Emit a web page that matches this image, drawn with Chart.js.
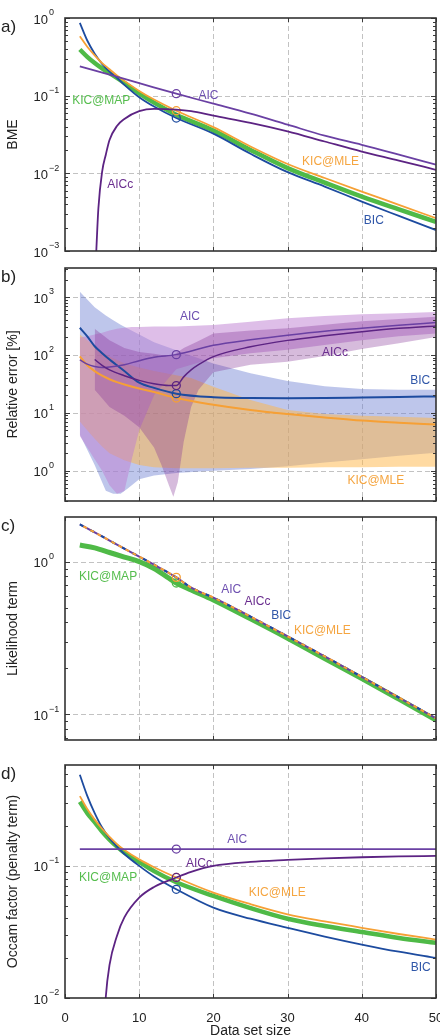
<!DOCTYPE html>
<html><head><meta charset="utf-8">
<script src="https://cdn.jsdelivr.net/npm/chart.js@4.4.1/dist/chart.umd.min.js"></script>
<style>
html,body{margin:0;padding:0;background:#fff;width:440px;height:1036px;overflow:hidden;position:relative;}
canvas{position:absolute;left:0;top:0;}
</style></head><body>
<canvas id="pa" width="460" height="1036"></canvas>
<canvas id="pb" width="460" height="1036"></canvas>
<canvas id="pc" width="460" height="1036"></canvas>
<canvas id="pd" width="460" height="1036"></canvas>
<script>
// ---------------- data ----------------
const xTicks = [0,10,20,30,40,50];
const xGrid = [10,20,30,40];
const sizes = [2,3,4,5,6,7,8,10,12,15,20,25,30,35,40,45,50];

// a) BME
const bmeBIC = [0.867,0.513,0.347,0.257,0.204,0.170,0.138,0.0955,0.0724,0.0515,0.0324,0.01786,0.01035,0.00676,0.00433,0.00283,0.00186];
const bmeMLE = [0.582,0.427,0.331,0.263,0.219,0.182,0.155,0.115,0.0891,0.0640,0.0394,0.0222,0.0132,0.00871,0.00582,0.00393,0.00264];
const bmeMAP = [0.393,0.316,0.263,0.224,0.195,0.170,0.146,0.107,0.0813,0.0569,0.0356,0.0200,0.01167,0.00759,0.00501,0.00343,0.00237];
const bmeAICsizes = [2,6,10,15,20,25,30,35,40,45,50];
const bmeAIC = [0.239,0.186,0.145,0.106,0.0789,0.0586,0.0423,0.0305,0.0233,0.0174,0.0129];
const bmeAICcSizes = [4.1,4.5,5,5.5,6,7,8,10,12,15,17,20,25,30,35,40,45,50];
const bmeAICc = [0.000562,0.00355,0.01047,0.01738,0.0269,0.0407,0.0501,0.0631,0.0676,0.0661,0.0631,0.0552,0.0447,0.0347,0.0257,0.0191,0.01462,0.01109];

// b) relative error [%]
const errBIC = [294,209,141,107,83.2,66.1,52.5,33.1,26.9,21.4,18.6,18.0,17.8,18.0,18.4,18.8,19.2];
const errMLE = [94.6,66.1,52.5,43.7,38.0,33.9,30.9,26.3,22.9,18.0,13.8,11.2,9.55,8.32,7.35,6.76,6.27];
const errAICsizes = [2,3,4,5,6,8,10,12,15,20,25,30,35,40,45,50];
const errAIC = [82.0,69.2,63.1,60.3,61.7,67.6,79.4,91.2,101,146,182,219,257,288,324,363];
const errAICcSizes = [4,5,6,8,10,12,14,15,16,17,18,20,25,30,35,40,45,50];
const errAICc = [83.2,66.1,55.0,43.7,36.3,31.6,29.5,29.5,41.7,55.0,67.6,93.3,138,178,214,251,288,316];
const bandBICsizes = [2,4,5.5,6.5,7.5,8.5,10,12,15,20,25,30,35,40,45,50];
const bandBIChigh = [1230,661,479,398,331,282,224,166,120,71,48,35.5,28.8,25.7,25.1,25.1];
const bandBIClow = [4.2,1.26,0.45,0.40,0.40,0.5,0.71,0.83,0.91,1.0,1.07,1.2,1.38,1.58,1.82,2.04];
const bandAICsizes = [2,3,4,5,6,7,8,9,10,12,15,20,25,30,35,40,45,50];
const bandAIChigh = [200,209,224,240,263,282,295,302,302,309,309,327,372,427,468,501,525,550];
const bandAIClow = [3.98,2.51,1.58,1.0,0.562,0.40,0.447,1.58,5.01,20.0,56.2,87.1,107,123,148,178,209,234];
const bandAICcSizes = [4,5,6,8,10,12,13,14,14.6,15.2,16,17,18,20,25,30,35,40,45,50];
const bandAICchigh = [282,224,178,132,112,105,100,100,100,112,132,151,174,234,263,288,331,380,417,457];
const bandAICclow = [25.1,17.8,12.6,8.91,5.62,2.51,1.26,0.562,0.355,0.631,3.16,12.6,25.1,50.1,67.6,75.9,95.5,126,158,204];
const bandMLEsizes = [2,3,4,5,6,8,10,12,15,17,20,25,30,35,40,45,50];
const bandMLEhigh = [224,178,141,112,93.3,70.8,60.3,52.5,44.7,39.8,28.2,16.6,11.2,9.55,8.91,8.51,8.13];
const bandMLElow = [7.08,5.01,3.55,2.63,2.0,1.51,1.26,1.15,1.10,1.10,1.10,1.12,1.12,1.15,1.15,1.17,1.17];

// c) likelihood term
const likeSizes = [2,5,8,10,12,15,17,20,25,30,35,40,45,50];
const likeML = [1.754,1.462,1.216,1.08,0.955,0.789,0.676,0.581,0.437,0.324,0.240,0.176,0.129,0.0942];
const likeMAPsizes = [2,4,6,8,10,12,14,15,17,20,25,30,35,40,45,50];
const likeMAP = [1.285,1.230,1.148,1.072,1.0,0.902,0.78,0.725,0.653,0.561,0.422,0.315,0.232,0.172,0.126,0.0918];

// d) Occam factor
const occBIC = [0.489,0.339,0.251,0.195,0.162,0.140,0.123,0.100,0.0832,0.0665,0.0483,0.0398,0.0340,0.0292,0.0254,0.0224,0.0201];
const occMLE = [0.337,0.269,0.224,0.191,0.166,0.146,0.132,0.112,0.0977,0.0817,0.0628,0.0513,0.0430,0.0380,0.0340,0.0305,0.0277];
const occMAP = [0.306,0.251,0.214,0.182,0.158,0.140,0.126,0.107,0.0912,0.0752,0.0592,0.0479,0.0398,0.0351,0.0316,0.0285,0.0262];
const occAICsizes = [2,15,50];
const occAIC = [0.134,0.134,0.134];
const occAICcSizes = [5.0,5.5,6,7,8,10,12,15,17,20,25,30,35,40,45,50];
const occAICc = [0.00316,0.01023,0.0178,0.0295,0.0407,0.0575,0.0692,0.0817,0.0902,0.100,0.1072,0.1109,0.1140,0.1162,0.1178,0.1191];

// axis ranges and decade tick exponents
const rangeA = [0.001, 1];     const expA = [0,-1,-2,-3];
const rangeB = [0.316, 3162];  const expB = [0,1,2,3];
const rangeC = [0.068, 1.96];  const expC = [0,-1];
const rangeD = [0.01, 0.58];   const expD = [-1,-2];

// ---------------- style ----------------
const FONT = '"Liberation Sans", Arial, Helvetica, sans-serif';
const C_BIC = '#1d4b9f', C_MLE = '#f6a035', C_MAP = '#4fba47', C_AIC = '#6a40a3', C_AICc = '#5c2383';
const L_BIC = '#2f56a8', L_MLE = '#f5a540', L_MAP = '#55bd4d', L_AIC = '#6d4fb0', L_AICc = '#6a2d8f';
const PL = 65, PR = 436, CW = 460, CH = 1036;

const notesA = [
  {t:'AIC', x:19.34, y:0.099, c:L_AIC}, {t:'KIC@MAP', x:4.89, y:0.0871, c:L_MAP},
  {t:'KIC@MLE', x:35.78, y:0.01429, c:L_MLE}, {t:'BIC', x:41.62, y:0.00247, c:L_BIC},
  {t:'AICc', x:7.45, y:0.00708, c:L_AICc}];
const notesB = [
  {t:'AIC', x:16.85, y:456, c:L_AIC}, {t:'AICc', x:36.39, y:109, c:L_AICc},
  {t:'BIC', x:47.88, y:36.1, c:L_BIC}, {t:'KIC@MLE', x:41.89, y:0.665, c:L_MLE}];
const notesC = [
  {t:'KIC@MAP', x:5.8, y:0.797, c:L_MAP}, {t:'AIC', x:22.4, y:0.655, c:L_AIC},
  {t:'AICc', x:25.94, y:0.551, c:L_AICc}, {t:'BIC', x:29.14, y:0.441, c:L_BIC},
  {t:'KIC@MLE', x:34.68, y:0.351, c:L_MLE}];
const notesD = [
  {t:'AIC', x:23.2, y:0.157, c:L_AIC}, {t:'AICc', x:18.06, y:0.1045, c:L_AICc},
  {t:'KIC@MAP', x:5.8, y:0.0809, c:L_MAP}, {t:'KIC@MLE', x:28.6, y:0.0625, c:L_MLE},
  {t:'BIC', x:47.95, y:0.01687, c:L_BIC}];

function pts(xs, ys){ return xs.map((x,i)=>({x:x, y:ys[i]})); }
function lineDS(xs, ys, color, width, order, circle, extra) {
  return Object.assign({
    data: pts(xs, ys), borderColor: color, borderWidth: width, fill: false,
    pointRadius: xs.map(x => (circle && x === 15) ? 4 : 0), pointHoverRadius: 0,
    pointBorderColor: color, pointBackgroundColor: 'rgba(0,0,0,0)', pointBorderWidth: 1.3,
    cubicInterpolationMode: 'monotone', order: order
  }, extra || {});
}
function bandDS(xs, hi, lo, color, order) {
  return [
    {data: pts(xs, hi), borderWidth: 1, borderColor: 'rgba(0,0,0,0)', pointRadius: 0, fill: '+1', backgroundColor: color, tension: 0, order: order},
    {data: pts(xs, lo), borderWidth: 1, borderColor: 'rgba(0,0,0,0)', pointRadius: 0, fill: false, tension: 0, order: order}
  ];
}

function seg(ctx, x1, y1, x2, y2){ ctx.beginPath(); ctx.moveTo(x1,y1); ctx.lineTo(x2,y2); ctx.stroke(); }

function panelPlugin(p) {
  return {
    id: 'panel' + p.key,
    beforeDatasetsDraw(chart) {
      const {ctx, chartArea: a, scales: {x, y}} = chart;
      ctx.save();
      ctx.strokeStyle = '#c2c2c2'; ctx.lineWidth = 1; ctx.setLineDash([5,3]);
      xGrid.forEach(v => { const px = Math.round(x.getPixelForValue(v)) + 0.5; seg(ctx, px, a.top, px, a.bottom); });
      p.exps.forEach(e => {
        const py = Math.round(y.getPixelForValue(Math.pow(10, e))) + 0.5;
        if (py > a.top + 2 && py < a.bottom - 2) seg(ctx, a.left, py, a.right, py);
      });
      ctx.restore();
    },
    afterDatasetsDraw(chart) {
      const {ctx, chartArea: a, scales: {x, y}} = chart;
      ctx.save();
      ctx.strokeStyle = '#3a3a3a'; ctx.lineWidth = 1; ctx.setLineDash([]);
      const lo = Math.floor(Math.log10(y.min)), hi = Math.ceil(Math.log10(y.max));
      for (let e = lo; e <= hi; e++) for (let m = 1; m <= 9; m++) {
        const v = m * Math.pow(10, e);
        if (v < y.min * 0.999 || v > y.max * 1.001) continue;
        const py = Math.round(y.getPixelForValue(v)) + 0.5, len = m === 1 ? 5 : 3;
        seg(ctx, a.left, py, a.left + len, py); seg(ctx, a.right, py, a.right - len, py);
      }
      xTicks.forEach(v => {
        const px = Math.round(x.getPixelForValue(v)) + 0.5;
        seg(ctx, px, a.bottom, px, a.bottom - 4); seg(ctx, px, a.top, px, a.top + 4);
      });
      ctx.lineWidth = 1.6; ctx.strokeStyle = '#333';
      ctx.strokeRect(a.left, a.top, a.right - a.left, a.bottom - a.top);
      ctx.restore();
    },
    afterDraw(chart) {
      const {ctx, chartArea: a, scales: {x, y}} = chart;
      ctx.save();
      ctx.fillStyle = '#222';
      p.exps.forEach(e => {
        const py = y.getPixelForValue(Math.pow(10, e));
        ctx.font = '13px ' + FONT; ctx.textAlign = 'right'; ctx.textBaseline = 'middle';
        ctx.fillText('10', 48, py + 2);
        ctx.font = '9px ' + FONT; ctx.textAlign = 'left';
        ctx.fillText(e < 0 ? '\u2212' + (-e) : String(e), 49, py - 5);
      });
      // y title
      ctx.save();
      ctx.translate(13, (a.top + a.bottom) / 2); ctx.rotate(-Math.PI / 2);
      ctx.font = '14px ' + FONT; ctx.textAlign = 'center'; ctx.textBaseline = 'middle';
      ctx.fillText(p.title, 0, 0);
      ctx.restore();
      // panel letter
      ctx.font = '17px ' + FONT; ctx.textAlign = 'left'; ctx.textBaseline = 'middle';
      ctx.fillText(p.letter, 1, a.top + 9);
      if (p.xTitle) {
        ctx.font = '14px ' + FONT; ctx.textAlign = 'center'; ctx.textBaseline = 'middle';
        ctx.fillText(p.xTitle, (a.left + a.right) / 2, 1031);
      }
      // series labels
      ctx.font = '12px ' + FONT; ctx.textAlign = 'center'; ctx.textBaseline = 'middle';
      p.notes.forEach(n => { ctx.fillStyle = n.c; ctx.fillText(n.t, x.getPixelForValue(n.x), y.getPixelForValue(n.y)); });
      ctx.restore();
    }
  };
}

function makePanel(p) {
  return new Chart(document.getElementById(p.id), {
    type: 'line',
    data: { datasets: p.datasets },
    options: {
      responsive: false, animation: false, events: [],
      layout: { padding: { top: p.top, right: CW - PR, left: 0, bottom: 0 } },
      plugins: { legend: { display: false }, tooltip: { enabled: false } },
      scales: {
        x: { type: 'linear', min: 0, max: 50, grid: { display: false }, border: { display: false },
             ticks: { display: !!p.showX, stepSize: 10, color: '#222', padding: 5, maxRotation: 0,
                      font: { family: FONT, size: 13 } },
             afterFit: s => { s.height = CH - p.bottom; } },
        y: { type: 'logarithmic', min: p.range[0], max: p.range[1], grid: { display: false },
             border: { display: false }, ticks: { display: false },
             afterFit: s => { s.width = PL; } }
      }
    },
    plugins: [panelPlugin(p)]
  });
}

makePanel({
  id: 'pa', key: 'a', letter: 'a)', title: 'BME', top: 18, bottom: 251, range: rangeA, exps: expA, notes: notesA,
  datasets: [
    lineDS(sizes, bmeMAP, C_MAP, 4.5, 6, false),
    lineDS(sizes, bmeBIC, C_BIC, 1.8, 5, true),
    lineDS(sizes, bmeMLE, C_MLE, 1.8, 4, true),
    lineDS(bmeAICsizes, bmeAIC, C_AIC, 1.8, 3, true),
    lineDS(bmeAICcSizes, bmeAICc, C_AICc, 1.8, 2, false)
  ]
});

makePanel({
  id: 'pb', key: 'b', letter: 'b)', title: 'Relative error [%]', top: 268, bottom: 501, range: rangeB, exps: expB, notes: notesB,
  datasets: [].concat(
    bandDS(bandBICsizes, bandBIChigh, bandBIClow, 'rgba(110,128,210,0.45)', 20),
    bandDS(bandMLEsizes, bandMLEhigh, bandMLElow, 'rgba(255,182,70,0.5)', 19),
    bandDS(bandAICsizes, bandAIChigh, bandAIClow, 'rgba(190,125,210,0.5)', 18),
    bandDS(bandAICcSizes, bandAICchigh, bandAICclow, 'rgba(130,50,150,0.33)', 17),
    [
      lineDS(sizes, errMLE, C_MLE, 2, 5, true),
      lineDS(sizes, errBIC, C_BIC, 2, 4, true),
      lineDS(errAICsizes, errAIC, C_AIC, 1.5, 3, true),
      lineDS(errAICcSizes, errAICc, C_AICc, 1.5, 2, true)
    ])
});

makePanel({
  id: 'pc', key: 'c', letter: 'c)', title: 'Likelihood term', top: 517, bottom: 740, range: rangeC, exps: expC, notes: notesC,
  datasets: [
    lineDS(likeMAPsizes, likeMAP, C_MAP, 5, 6, true),
    lineDS(likeSizes, likeML, C_AIC, 2, 5, false),
    lineDS(likeSizes, likeML, C_BIC, 2, 4, false, { borderDash: [4, 8], borderDashOffset: 0 }),
    lineDS(likeSizes, likeML, C_MLE, 2, 3, true, { borderDash: [4, 4], borderDashOffset: 4 })
  ]
});

makePanel({
  id: 'pd', key: 'd', letter: 'd)', title: 'Occam factor (penalty term)', xTitle: 'Data set size', showX: true,
  top: 765, bottom: 998, range: rangeD, exps: expD, notes: notesD,
  datasets: [
    lineDS(sizes, occMAP, C_MAP, 4.5, 6, false),
    lineDS(sizes, occBIC, C_BIC, 1.8, 5, true),
    lineDS(sizes, occMLE, C_MLE, 1.8, 4, true),
    lineDS(occAICsizes, occAIC, C_AIC, 1.8, 3, true),
    lineDS(occAICcSizes, occAICc, C_AICc, 1.8, 2, true)
  ]
});
</script>
</body></html>
